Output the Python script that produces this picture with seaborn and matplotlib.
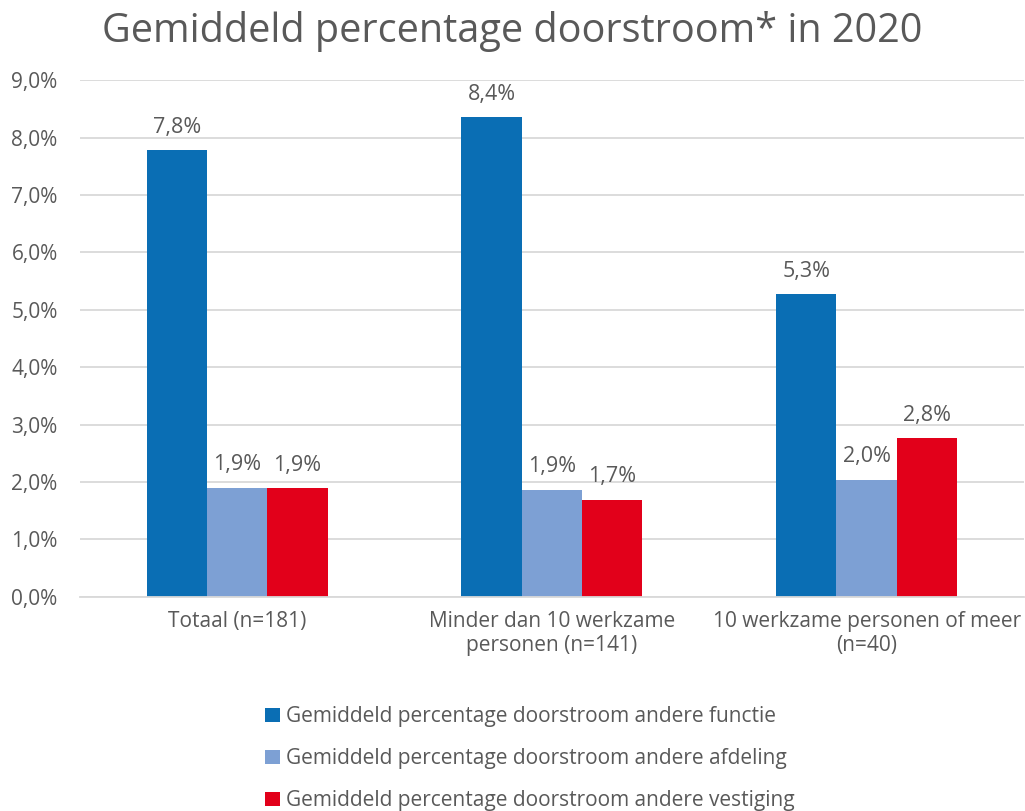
import matplotlib.pyplot as plt
import seaborn as sns
import pandas as pd
from matplotlib.ticker import FuncFormatter

# data
categories = ['Totaal (n=181)', 'Minder dan 10 werkzame\npersonen (n=141)', '10 werkzame personen of meer\n(n=40)']
series = ['Gemiddeld percentage doorstroom andere functie',
          'Gemiddeld percentage doorstroom andere afdeling',
          'Gemiddeld percentage doorstroom andere vestiging']
functie = [7.78, 8.36, 5.27]
afdeling = [1.90, 1.87, 2.04]
vestiging = [1.89, 1.69, 2.76]

colors = ['#0A6EB4', '#7DA0D4', '#E2001A']
grey = '#595959'

rows = []
for s, vals in zip(series, [functie, afdeling, vestiging]):
    for c, v in zip(categories, vals):
        rows.append({'Categorie': c, 'Reeks': s, 'Waarde': v})
df = pd.DataFrame(rows)

sns.set_theme(style="white")
plt.rcParams['font.family'] = ['Open Sans', 'DejaVu Sans']

fig = plt.figure(figsize=(10.25, 8.11), dpi=100)
ax = fig.add_axes([0.078, 0.264, 0.921, 0.637])

sns.barplot(data=df, x='Categorie', y='Waarde', hue='Reeks', palette=colors,
            width=0.575, saturation=1, linewidth=0, ax=ax, legend=True)

for cont in ax.containers:
    labels = [f"{b.get_height():.1f}%".replace('.', ',') for b in cont]
    ax.bar_label(cont, labels=labels, padding=9, fontsize=15.5, color=grey)

ax.set_ylim(0, 9)
ax.set_xlim(-0.5, 2.5)
ax.set_yticks([i for i in range(10)])
ax.yaxis.set_major_formatter(FuncFormatter(lambda v, p: f"{v:.1f}%".replace('.', ',')))
ax.grid(axis='y', color='#D9D9D9', linewidth=1.3)
ax.set_axisbelow(True)
for sp in ['top', 'right', 'left']:
    ax.spines[sp].set_visible(False)
ax.spines['bottom'].set_color('#D9D9D9')
ax.spines['bottom'].set_linewidth(1.3)
ax.tick_params(axis='both', length=0, labelsize=15, labelcolor=grey)
ax.tick_params(axis='y', pad=16)
ax.tick_params(axis='x', pad=10)
ax.set_xlabel('')
ax.set_ylabel('')

handles, labs = ax.get_legend_handles_labels()
ax.get_legend().remove()
fig.legend(handles, labs, loc='upper center', bbox_to_anchor=(0.517, 0.152),
           ncol=1, frameon=False, fontsize=15, labelcolor=grey,
           handlelength=0.7, handleheight=0.7, handletextpad=0.3, labelspacing=1.0)

fig.suptitle('Gemiddeld percentage doorstroom* in 2020', fontsize=28.5, color=grey,
             y=0.987, va='top')

plt.savefig('out.png', dpi=100)
